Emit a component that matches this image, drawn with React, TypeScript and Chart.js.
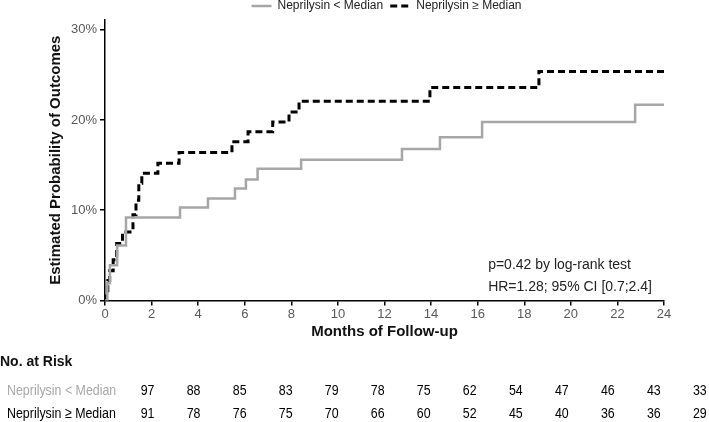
import React, { useEffect, useRef } from "react";
import { Chart, registerables } from "chart.js";

Chart.register(...registerables);

const lowLabel = "Neprilysin < Median";
const highLabel = "Neprilysin \u2265 Median";

const lowTimes = [0, 0.1, 0.21, 0.52, 0.9, 3.22, 4.42, 5.58, 6.05, 6.55, 8.42, 12.75, 14.38, 16.19, 22.76, 24];
const lowValues = [0, 1.9, 3.9, 6.1, 9.2, 10.3, 11.3, 12.4, 13.4, 14.6, 15.6, 16.8, 18.1, 19.8, 21.7, 21.7];

const highTimes = [0, 0.05, 0.12, 0.2, 0.35, 0.5, 0.75, 1.2, 1.33, 1.45, 1.58, 2.27, 3.18, 5.45, 6.14, 7.2, 7.9, 8.33, 13.95, 18.63, 24];
const highValues = [0, 0.8, 2.2, 3.3, 4.5, 6.3, 7.6, 9.5, 11.1, 13.0, 14.1, 15.2, 16.4, 17.6, 18.7, 19.8, 20.9, 22.1, 23.6, 25.4, 25.4];

const riskMonths = [0, 2, 4, 6, 8, 10, 12, 14, 16, 18, 20, 22, 24];
const riskLow = [97, 88, 85, 83, 79, 78, 75, 62, 54, 47, 46, 43, 33];
const riskHigh = [91, 78, 76, 75, 70, 66, 60, 52, 45, 40, 36, 36, 29];

const statLines = ["p=0.42 by log-rank test", "HR=1.28; 95% CI [0.7;2.4]"];

const SANS = "'Liberation Sans', Arial, sans-serif";
const GREY = "#a6a6a6";
const SQUEEZE = 0.8;

function narrowText(ctx: CanvasRenderingContext2D, text: string, x: number, y: number) {
  ctx.save();
  ctx.scale(SQUEEZE, 1);
  ctx.fillText(text, x / SQUEEZE, y);
  ctx.restore();
}

const overlayPlugin = {
  id: "kmOverlay",
  afterDraw(chart: any) {
    const ctx = chart.ctx as CanvasRenderingContext2D;
    const xs = chart.scales.x;
    const ys = chart.scales.y;
    const area = chart.chartArea;
    ctx.save();

    // Legend
    ctx.font = `12px ${SANS}`;
    ctx.textBaseline = "middle";
    const ds = chart.data.datasets;
    const boxW = 20;
    const gapText = 6;
    const gapItem = 7;
    const widths = ds.map((d: any) => boxW + gapText + ctx.measureText(d.label).width);
    const total = widths.reduce((a: number, b: number) => a + b, 0) + gapItem * (ds.length - 1);
    let lx = (area.left + area.right) / 2 + 2 - total / 2;
    const ly = 6;
    ds.forEach((d: any, i: number) => {
      ctx.beginPath();
      ctx.strokeStyle = d.borderColor;
      ctx.lineWidth = d.borderWidth;
      ctx.setLineDash(d.borderDash || []);
      ctx.moveTo(lx, ly);
      ctx.lineTo(lx + boxW, ly);
      ctx.stroke();
      ctx.setLineDash([]);
      ctx.fillStyle = "#222";
      ctx.textAlign = "left";
      ctx.fillText(d.label, lx + boxW + gapText, ly);
      lx += widths[i] + gapItem;
    });

    // Stats annotation
    ctx.font = `14px ${SANS}`;
    ctx.fillStyle = "#222";
    ctx.textAlign = "left";
    ctx.fillText(statLines[0], xs.getPixelForValue(16.45), ys.getPixelForValue(3.9));
    ctx.fillText(statLines[1], xs.getPixelForValue(16.45), ys.getPixelForValue(1.45));

    // Risk table
    ctx.font = `bold 14px ${SANS}`;
    ctx.fillStyle = "#111";
    ctx.fillText("No. at Risk", 0, 362);

    ctx.font = `15.5px ${SANS}`;
    ctx.fillStyle = "#a8a8a8";
    narrowText(ctx, lowLabel, 7, 391);
    ctx.fillStyle = "#000";
    narrowText(ctx, highLabel, 7, 414);

    ctx.textAlign = "center";
    const x0 = xs.getPixelForValue(riskMonths[1]) - 4;
    const colStep = ((xs.getPixelForValue(24) - xs.getPixelForValue(0)) / 12) * 0.988;
    riskMonths.forEach((_m, i) => {
      const px = x0 + i * colStep;
      ctx.fillStyle = "#000";
      narrowText(ctx, String(riskLow[i]), px, 391);
      narrowText(ctx, String(riskHigh[i]), px, 414);
    });

    ctx.restore();
  },
};

export default function App() {
  const ref = useRef<HTMLCanvasElement | null>(null);

  useEffect(() => {
    document.body.style.margin = "0";
    if (!ref.current) return;
    const chart = new Chart(ref.current, {
      type: "line",
      data: {
        datasets: [
          {
            label: lowLabel,
            data: lowTimes.map((t, i) => ({ x: t, y: lowValues[i] })),
            borderColor: GREY,
            borderWidth: 2.5,
            stepped: "before",
            pointRadius: 0,
            fill: false,
          },
          {
            label: highLabel,
            data: highTimes.map((t, i) => ({ x: t, y: highValues[i] })),
            borderColor: "#000000",
            borderWidth: 3,
            borderDash: [7, 4],
            stepped: "before",
            pointRadius: 0,
            fill: false,
          },
        ],
      },
      options: {
        animation: false,
        responsive: false,
        maintainAspectRatio: false,
        devicePixelRatio: 1,
        layout: { padding: { left: 42, right: 45, top: 20, bottom: 77 } },
        plugins: {
          legend: { display: false },
          tooltip: { enabled: false },
        },
        scales: {
          x: {
            type: "linear",
            min: 0,
            max: 24,
            border: { display: true, color: "#000", width: 1.5 },
            grid: { display: true, drawOnChartArea: false, drawTicks: true, tickLength: 5, color: "#000", lineWidth: 1.5 },
            ticks: {
              stepSize: 2,
              padding: 1,
              color: "#595959",
              font: { family: SANS, size: 13 },
              maxRotation: 0,
              includeBounds: false,
            },
            title: {
              display: true,
              text: "Months of Follow-up",
              color: "#111",
              font: { family: SANS, size: 15, weight: "bold" },
              padding: { top: 0, bottom: 4 },
            },
          },
          y: {
            type: "linear",
            min: 0,
            max: 31.1,
            border: { display: true, color: "#000", width: 1.5 },
            grid: { display: true, drawOnChartArea: false, drawTicks: true, tickLength: 5, color: "#000", lineWidth: 1.5 },
            ticks: {
              stepSize: 10,
              padding: 3,
              color: "#595959",
              font: { family: SANS, size: 13 },
              includeBounds: false,
              callback: (v: any) => `${v}%`,
            },
            title: {
              display: true,
              text: "Estimated Probability of Outcomes",
              color: "#111",
              font: { family: SANS, size: 15, weight: "bold" },
              padding: { top: 5, bottom: 3 },
            },
          },
        },
      },
      plugins: [overlayPlugin],
    } as any);
    return () => chart.destroy();
  }, []);

  return (
    <div style={{ position: "absolute", left: 0, top: 0, width: 709, height: 422 }}>
      <canvas ref={ref} width={709} height={422} style={{ width: 709, height: 422, display: "block" }} />
    </div>
  );
}
